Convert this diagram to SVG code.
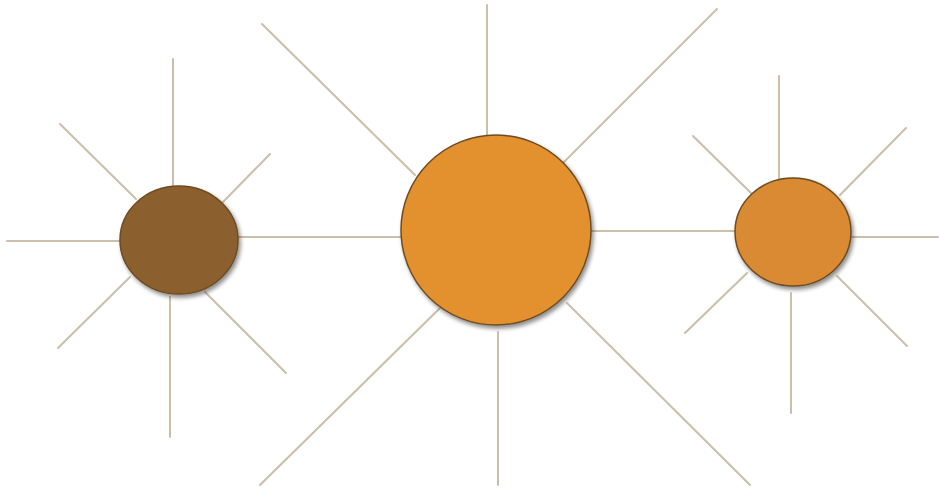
<svg xmlns="http://www.w3.org/2000/svg" width="939" height="489" viewBox="0 0 939 489">
  <defs>
    <filter id="sh" x="-20%" y="-20%" width="150%" height="150%">
      <feGaussianBlur in="SourceAlpha" stdDeviation="2"/>
      <feOffset dx="2" dy="3" result="b"/>
      <feComponentTransfer><feFuncA type="linear" slope="0.45"/></feComponentTransfer>
      <feMerge><feMergeNode/><feMergeNode in="SourceGraphic"/></feMerge>
    </filter>
  </defs>
  <style>
    .ln { stroke: #cbbfa9; stroke-width: 2; fill: none; stroke-linecap: round; }
    .nd { stroke: #6e4c20; stroke-width: 1.5; filter: url(#sh); }
  </style>
  <rect width="939" height="489" fill="#ffffff"/>
  <g id="connectors">
    <!-- left hub -->
    <line class="ln" x1="173" y1="59" x2="173" y2="186"/>
    <line class="ln" x1="60" y1="124" x2="136" y2="199"/>
    <line class="ln" x1="270" y1="154" x2="223" y2="202"/>
    <line class="ln" x1="7" y1="241" x2="120" y2="241"/>
    <line class="ln" x1="238" y1="237" x2="401" y2="237"/>
    <line class="ln" x1="58" y1="348" x2="130" y2="277"/>
    <line class="ln" x1="170" y1="297" x2="170" y2="437"/>
    <line class="ln" x1="205" y1="292" x2="286" y2="373"/>
    <!-- center hub -->
    <line class="ln" x1="487" y1="5" x2="487" y2="136"/>
    <line class="ln" x1="262" y1="24" x2="415" y2="175"/>
    <line class="ln" x1="717" y1="9" x2="563" y2="163"/>
    <line class="ln" x1="591" y1="231" x2="735" y2="231"/>
    <line class="ln" x1="440" y1="308" x2="260" y2="485"/>
    <line class="ln" x1="498" y1="332" x2="498" y2="485"/>
    <line class="ln" x1="567" y1="303" x2="750" y2="485"/>
    <!-- right hub -->
    <line class="ln" x1="779" y1="76" x2="779" y2="178"/>
    <line class="ln" x1="693" y1="136" x2="751" y2="193"/>
    <line class="ln" x1="906" y1="128" x2="840" y2="195"/>
    <line class="ln" x1="852" y1="237" x2="938" y2="237"/>
    <line class="ln" x1="685" y1="333" x2="747" y2="273"/>
    <line class="ln" x1="791" y1="293" x2="791" y2="413"/>
    <line class="ln" x1="837" y1="276" x2="907" y2="346"/>
  </g>
  <g id="node-left">
    <ellipse class="nd" cx="179" cy="240" rx="59" ry="54" fill="#8c5f2e"/>
  </g>
  <g id="node-center">
    <ellipse class="nd" cx="496" cy="230" rx="95" ry="95" fill="#e3912f"/>
  </g>
  <g id="node-right">
    <ellipse class="nd" cx="793" cy="232" rx="58" ry="54" fill="#d98a33"/>
  </g>
</svg>
